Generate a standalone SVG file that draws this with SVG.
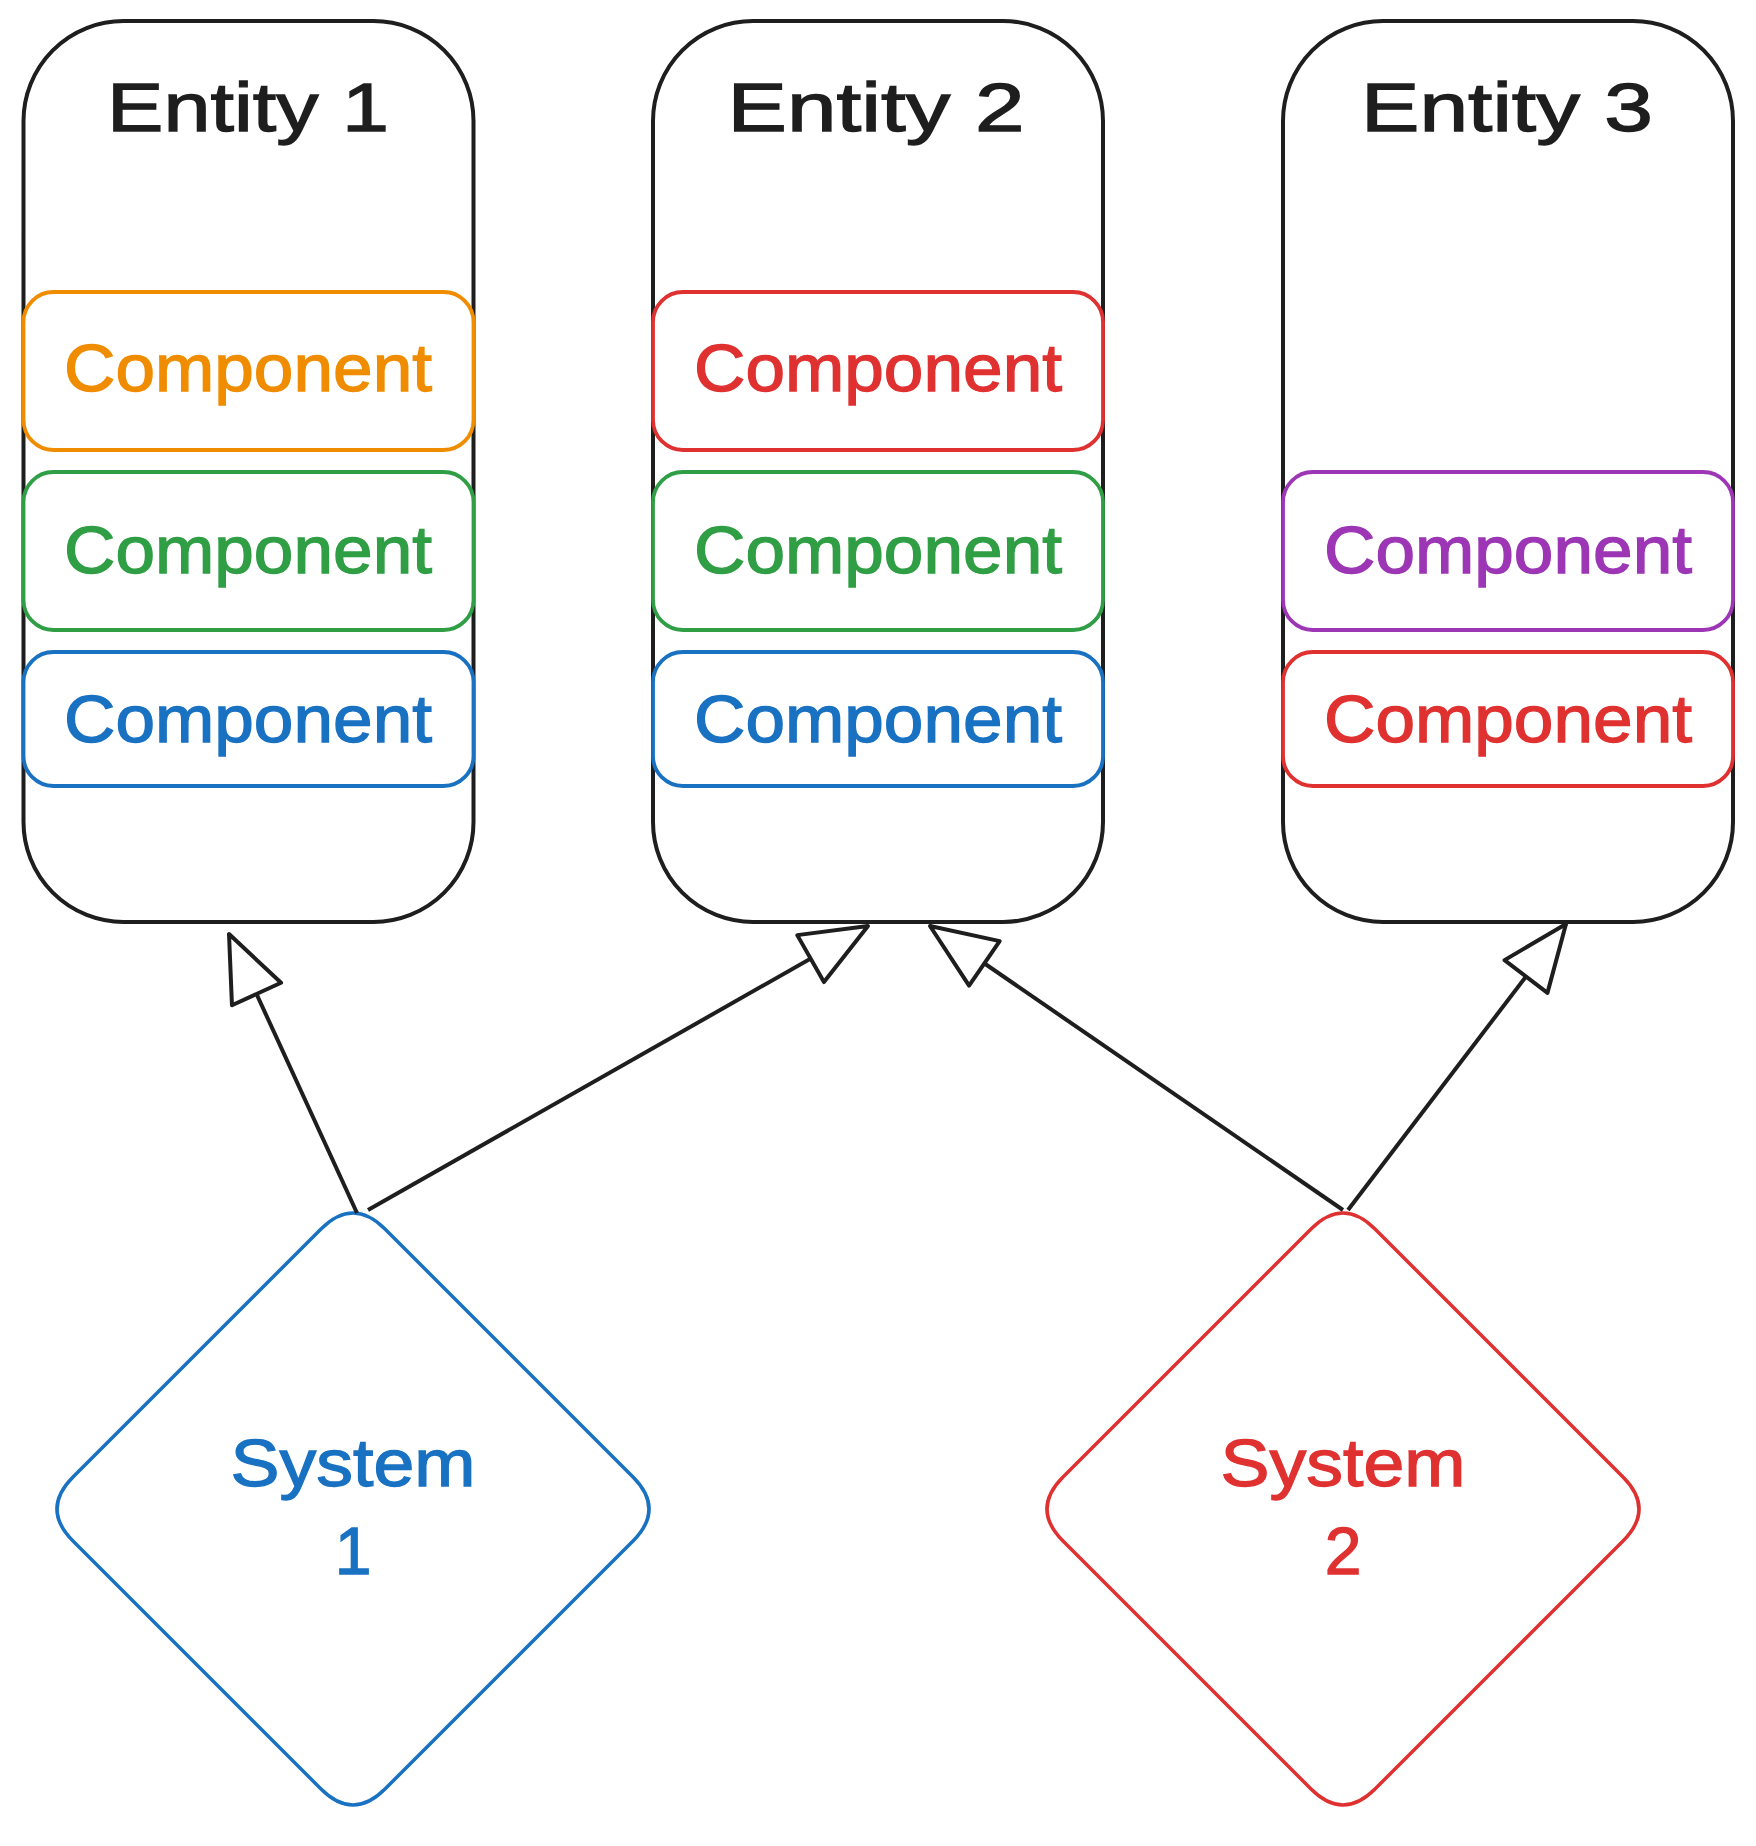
<svg xmlns="http://www.w3.org/2000/svg" width="1756" height="1846" viewBox="0 0 1756 1846">
<style>
.ent{fill:#ffffff;stroke:#1e1e1e;stroke-width:4}
.comp{fill:#ffffff;stroke-width:3.8}
.t{font-family:"Liberation Sans",Arial,sans-serif;text-anchor:middle;stroke-width:1.3}
.title{font-size:68px;fill:#1e1e1e;stroke:#1e1e1e}
.ct{font-size:66px}
.conn{fill:none;stroke:#1e1e1e;stroke-width:4;marker-end:url(#tri)}
</style>
<defs>
<marker id="tri" markerUnits="userSpaceOnUse" viewBox="-75 -35 80 70" refX="0" refY="0" markerWidth="80" markerHeight="70" orient="auto" overflow="visible">
<path d="M0,0 L-66,-27 L-66,27 Z" fill="#ffffff" stroke="#1e1e1e" stroke-width="4" stroke-linejoin="round"/>
</marker>
</defs>
<rect width="1756" height="1846" fill="#ffffff"/>
<g id="entity1">
<rect class="ent" x="23.5" y="21" width="450" height="901" rx="100" ry="100"/>
<text class="t title" x="248" y="131" textLength="282" lengthAdjust="spacingAndGlyphs">Entity 1</text>
<rect class="comp" x="23.5" y="292" width="450" height="158" rx="30" stroke="#f08c00"/>
<text class="t ct" x="248" y="391" fill="#f08c00" stroke="#f08c00" textLength="368" lengthAdjust="spacingAndGlyphs">Component</text>
<rect class="comp" x="23.5" y="472" width="450" height="158" rx="30" stroke="#2f9e44"/>
<text class="t ct" x="248" y="573" fill="#2f9e44" stroke="#2f9e44" textLength="368" lengthAdjust="spacingAndGlyphs">Component</text>
<rect class="comp" x="23.5" y="652" width="450" height="134" rx="30" stroke="#1971c2"/>
<text class="t ct" x="248" y="742" fill="#1971c2" stroke="#1971c2" textLength="368" lengthAdjust="spacingAndGlyphs">Component</text>
</g>
<g id="entity2">
<rect class="ent" x="653" y="21" width="450" height="901" rx="100" ry="100"/>
<text class="t title" x="876" y="131" textLength="297" lengthAdjust="spacingAndGlyphs">Entity 2</text>
<rect class="comp" x="653" y="292" width="450" height="158" rx="30" stroke="#e03131"/>
<text class="t ct" x="878" y="391" fill="#e03131" stroke="#e03131" textLength="368" lengthAdjust="spacingAndGlyphs">Component</text>
<rect class="comp" x="653" y="472" width="450" height="158" rx="30" stroke="#2f9e44"/>
<text class="t ct" x="878" y="573" fill="#2f9e44" stroke="#2f9e44" textLength="368" lengthAdjust="spacingAndGlyphs">Component</text>
<rect class="comp" x="653" y="652" width="450" height="134" rx="30" stroke="#1971c2"/>
<text class="t ct" x="878" y="742" fill="#1971c2" stroke="#1971c2" textLength="368" lengthAdjust="spacingAndGlyphs">Component</text>
</g>
<g id="entity3">
<rect class="ent" x="1283" y="21" width="450" height="901" rx="100" ry="100"/>
<text class="t title" x="1507" y="131" textLength="292" lengthAdjust="spacingAndGlyphs">Entity 3</text>
<rect class="comp" x="1283" y="472" width="450" height="158" rx="30" stroke="#9c36b5"/>
<text class="t ct" x="1508" y="573" fill="#9c36b5" stroke="#9c36b5" textLength="368" lengthAdjust="spacingAndGlyphs">Component</text>
<rect class="comp" x="1283" y="652" width="450" height="134" rx="30" stroke="#e03131"/>
<text class="t ct" x="1508" y="742" fill="#e03131" stroke="#e03131" textLength="368" lengthAdjust="spacingAndGlyphs">Component</text>
</g>
<g id="system1">
<path d="M385,1229 L633,1477 Q665,1509 633,1541 L385,1789 Q353,1821 321,1789 L73,1541 Q41,1509 73,1477 L321,1229 Q353,1197 385,1229 Z" fill="#ffffff" stroke="#1971c2" stroke-width="3.5"/>
<text class="t ct" x="353" y="1486" fill="#1971c2" stroke="#1971c2" textLength="245" lengthAdjust="spacingAndGlyphs">System</text>
<text class="t ct" x="353" y="1574" fill="#1971c2" stroke="#1971c2">1</text>
</g>
<g id="system2">
<path d="M1375,1229 L1623,1477 Q1655,1509 1623,1541 L1375,1789 Q1343,1821 1311,1789 L1063,1541 Q1031,1509 1063,1477 L1311,1229 Q1343,1197 1375,1229 Z" fill="#ffffff" stroke="#e03131" stroke-width="3.5"/>
<text class="t ct" x="1343" y="1486" fill="#e03131" stroke="#e03131" textLength="245" lengthAdjust="spacingAndGlyphs">System</text>
<text class="t ct" x="1343" y="1574" fill="#e03131" stroke="#e03131">2</text>
</g>
<g id="connectors">
<path class="conn" d="M357,1213 L229,934"/>
<path class="conn" d="M368,1210 L868,926"/>
<path class="conn" d="M1343,1210 L930,926"/>
<path class="conn" d="M1348,1210 L1566,924"/>
</g>
</svg>
